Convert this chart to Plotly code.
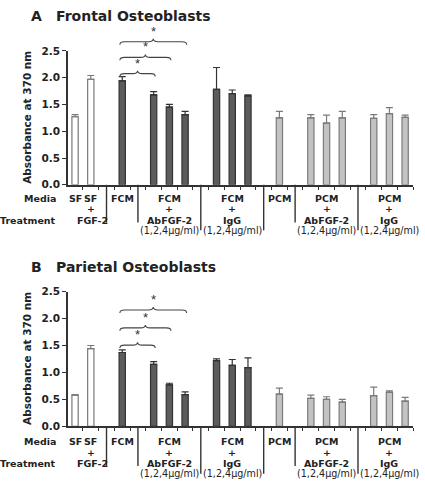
import plotly.graph_objects as go

# ---------------- data ----------------
media = ["SF", "SF", "FCM", "FCM", "FCM", "FCM", "FCM", "FCM", "FCM",
         "PCM", "PCM", "PCM", "PCM", "PCM", "PCM", "PCM"]
cluster_sizes = [2, 1, 3, 3, 1, 3, 3]

frontal_mean = [1.27, 1.97, 1.94, 1.68, 1.45, 1.31, 1.78, 1.70, 1.66,
                1.25, 1.25, 1.15, 1.25, 1.24, 1.33, 1.26]
frontal_err = [0.04, 0.07, 0.08, 0.06, 0.05, 0.06, 0.41, 0.07, 0.02,
               0.12, 0.06, 0.15, 0.12, 0.07, 0.11, 0.04]

parietal_mean = [0.58, 1.44, 1.37, 1.15, 0.77, 0.59, 1.22, 1.13, 1.09,
                 0.60, 0.52, 0.50, 0.45, 0.57, 0.63, 0.47]
parietal_err = [0.01, 0.06, 0.05, 0.05, 0.03, 0.05, 0.03, 0.11, 0.18,
                0.11, 0.06, 0.05, 0.05, 0.16, 0.03, 0.07]

# label text per cluster (rows: media, "+", treatment, dose)
cluster_labels = [
    None,
    ["FCM", "", "", ""],
    ["FCM", "+", "AbFGF-2", "(1,2,4\u03bcg/ml)"],
    ["FCM", "+", "IgG", "(1,2,4\u03bcg/ml)"],
    ["PCM", "", "", ""],
    ["PCM", "+", "AbFGF-2", "(1,2,4\u03bcg/ml)"],
    ["PCM", "+", "IgG", "(1,2,4\u03bcg/ml)"],
]
sf_labels = [["SF", "", "", ""], ["SF", "+", "FGF-2", ""]]

panel_titles = [("A", "Frontal Osteoblasts"), ("B", "Parietal Osteoblasts")]
y_title = "Absorbance at 370 nm"
y_ticks = [0.0, 0.5, 1.0, 1.5, 2.0, 2.5]
sig_targets = [3, 4, 5]   # bar indices compared with FCM (index 2)

# ---------------- layout helpers ----------------
W, H = 425, 489
FONT = "DejaVu Sans"
DARK = "#222222"

# bar positions from cluster structure (gap of one slot between clusters)
positions, separators = [], []
p = 0
for ci, n in enumerate(cluster_sizes):
    for k in range(n):
        positions.append(p)
        p += 1
    if ci < len(cluster_sizes) - 1:
        separators.append(p)
        p += 1

styles = {
    "SF": dict(fill="#ffffff", line="#7a7a7a"),
    "FCM": dict(fill="#5c5c5c", line="#333333"),
    "PCM": dict(fill="#c3c3c3", line="#7a7a7a"),
}

def py(pix):
    return 1 - pix / H

panels = [
    dict(means=frontal_mean, errs=frontal_err, top=46.0, bottom=183.3,
         label_off=0.0, xa="x", ya="y",
         br_y=[69.3, 52.7, 36.7], title_y=10.5),
    dict(means=parietal_mean, errs=parietal_err, top=292.7, bottom=431.0,
         label_off=249.5, xa="x2", ya="y2",
         br_y=[347.7, 330.0, 311.7], title_y=268.0),
]

fig = go.Figure()
annotations, shapes = [], []
x_range = [-0.45, 21.5]

for pi, pan in enumerate(panels):
    for m in ["SF", "FCM", "PCM"]:
        idx = [i for i, mm in enumerate(media) if mm == m]
        st = styles[m]
        fig.add_trace(go.Bar(
            x=[positions[i] for i in idx],
            y=[pan["means"][i] for i in idx],
            width=0.4,
            marker=dict(color=st["fill"], line=dict(color=st["line"], width=1.2)),
            error_y=dict(type="data", symmetric=False,
                         array=[pan["errs"][i] for i in idx],
                         arrayminus=[0] * len(idx),
                         color=st["line"], thickness=1.2, width=3.5),
            xaxis=pan["xa"], yaxis=pan["ya"], showlegend=False, hoverinfo="skip",
        ))

    # titles
    annotations.append(dict(text="<b>" + panel_titles[pi][0] + "</b>", x=29 / W, y=py(pan["title_y"]),
                            xref="paper", yref="paper", xanchor="left", yanchor="middle",
                            showarrow=False, font=dict(family=FONT, size=14, color=DARK)))
    annotations.append(dict(text="<b>" + panel_titles[pi][1] + "</b>", x=54 / W, y=py(pan["title_y"]),
                            xref="paper", yref="paper", xanchor="left", yanchor="middle",
                            showarrow=False, font=dict(family=FONT, size=14, color=DARK)))
    # y title
    annotations.append(dict(text="<b>" + y_title + "</b>", x=27 / W,
                            y=py((pan["top"] + pan["bottom"]) / 2),
                            xref="paper", yref="paper", xanchor="center", yanchor="middle",
                            textangle=-90, showarrow=False,
                            font=dict(family=FONT, size=10.5, color=DARK)))
    # row headers
    off = pan["label_off"]
    rows_y = [197 + off, 208 + off, 219.5 + off, 230 + off]
    annotations.append(dict(text="<b>Media</b>", x=58 / W, y=py(rows_y[0]), xref="paper", yref="paper",
                            xanchor="right", yanchor="middle", showarrow=False,
                            font=dict(family=FONT, size=9.5, color=DARK)))
    annotations.append(dict(text="<b>Treatment</b>", x=58 / W, y=py(rows_y[2]), xref="paper", yref="paper",
                            xanchor="right", yanchor="middle", showarrow=False,
                            font=dict(family=FONT, size=9.5, color=DARK)))

    # category labels
    start = 0
    for ci, n in enumerate(cluster_sizes):
        cpos = positions[start:start + n]
        if ci == 0:
            for k, lab in enumerate(sf_labels):
                for r, t in enumerate(lab):
                    if t:
                        annotations.append(dict(text="<b>" + t + "</b>", x=cpos[k] + (0.12 if r == 2 else 0),
                                                y=py(rows_y[r]), xref=pan["xa"], yref="paper",
                                                xanchor="center", yanchor="middle", showarrow=False,
                                                font=dict(family=FONT, size=9.5, color=DARK)))
        else:
            cx = sum(cpos) / len(cpos)
            for r, t in enumerate(cluster_labels[ci]):
                if t:
                    bold = r < 3
                    annotations.append(dict(text=("<b>" + t + "</b>") if bold else t, x=cx,
                                            y=py(rows_y[r]), xref=pan["xa"], yref="paper",
                                            xanchor="center", yanchor="middle", showarrow=False,
                                            font=dict(family=FONT, size=9.5 if bold else 9.6,
                                                      color=DARK)))
        start += n

    # separators
    for si, s in enumerate(separators):
        end = (222 if s in (2, 4, 14) else 230) + off
        shapes.append(dict(type="line", xref=pan["xa"], yref="paper", x0=s, x1=s,
                           y0=py(pan["bottom"]), y1=py(end),
                           line=dict(color="#333333", width=1.4)))

    # significance braces
    x0 = positions[2] - 0.15
    hpx = 3.0 / H
    for bi, t in enumerate(sig_targets):
        x1 = positions[t] + 0.1
        xm = (x0 + x1) / 2
        yb = py(pan["br_y"][bi])
        e = 0.3
        path = (f"M {x0},{yb - hpx} Q {x0},{yb} {x0 + e},{yb} L {xm - e},{yb} "
                f"Q {xm},{yb} {xm},{yb + hpx} Q {xm},{yb} {xm + e},{yb} "
                f"L {x1 - e},{yb} Q {x1},{yb} {x1},{yb - hpx}")
        shapes.append(dict(type="path", xref=pan["xa"], yref="paper", path=path,
                           line=dict(color="#444444", width=1.1)))
        annotations.append(dict(text="*", x=xm, y=yb + 1.0 / H, xref=pan["xa"], yref="paper",
                                xanchor="center", yanchor="bottom", showarrow=False,
                                font=dict(family="Liberation Sans", size=13, color="#333333")))

xdom = [68 / W, 413 / W]
axis_common_x = dict(range=x_range, domain=xdom, showline=True, linecolor="#333333", linewidth=1.5,
                     showgrid=False, zeroline=False, ticks="outside", ticklen=3, tickwidth=1.2,
                     tickcolor="#333333", tickvals=[v + 0.5 for v in range(-1, 22)],
                     showticklabels=False, fixedrange=True)
axis_common_y = dict(range=[0, 2.5], tickvals=y_ticks, ticktext=["<b>%.1f</b>" % v for v in y_ticks],
                     showline=True, linecolor="#333333", linewidth=1.5, showgrid=False, zeroline=False,
                     ticks="outside", ticklen=4, tickwidth=1.2, tickcolor="#333333",
                     tickfont=dict(family=FONT, size=10.5, color=DARK), fixedrange=True)

fig.update_layout(
    width=W, height=H,
    margin=dict(l=0, r=0, t=0, b=0),
    paper_bgcolor="white", plot_bgcolor="white",
    barmode="overlay",
    hovermode=False,
    xaxis=dict(axis_common_x, anchor="y"),
    yaxis=dict(axis_common_y, anchor="x", domain=[py(panels[0]["bottom"]), py(panels[0]["top"])]),
    xaxis2=dict(axis_common_x, anchor="y2"),
    yaxis2=dict(axis_common_y, anchor="x2", domain=[py(panels[1]["bottom"]), py(panels[1]["top"])]),
    annotations=annotations,
    shapes=shapes,
    showlegend=False,
)

fig.write_html("out.html", config={"displayModeBar": False},
               post_script="document.body.style.margin='0';")
